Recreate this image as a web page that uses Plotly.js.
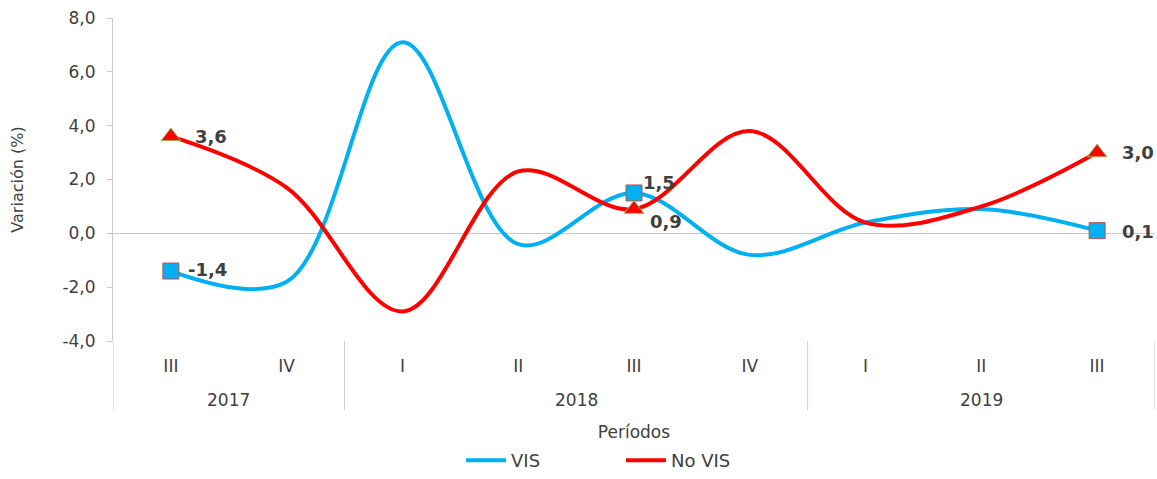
<!DOCTYPE html>
<html>
<head>
<meta charset="utf-8">
<script src="https://cdn.plot.ly/plotly-3.0.1.min.js"></script>
<style>html,body{margin:0;padding:0;background:#fff;}#chart{width:1157px;height:479px;}</style>
</head>
<body>
<div id="chart"></div>
<script>
const quarters = ['III','IV','I','II','III','IV','I','II','III'];
const years = ['2017','2018','2019'];
const yearSpans = [[0, 1], [2, 5], [6, 8]];
const vis = [-1.4, -1.8, 7.1, -0.4, 1.5, -0.8, 0.4, 0.9, 0.1];
const noVis = [3.6, 1.7, -2.9, 2.3, 0.9, 3.8, 0.4, 1.0, 3.0];
const yTicks = [-4, -2, 0, 2, 4, 6, 8];
const labelIdx = [0, 4, 8];
// label offsets (pixels) relative to the marker: [xshift, yshift]
const visLabelShift = [[15, 2], [7, 10], [23, -1]];
const noVisLabelShift = [[22, 0], [14, -12], [23, 0]];

const xIdx = quarters.map((q, i) => i);
const fmt = v => v.toFixed(1).replace('.', ',');
const pick = arr => labelIdx.map(i => arr[i]);
const FONT = 'DejaVu Sans, Verdana, sans-serif';
const lblFont = {family: FONT, size: 18, color: '#404040', weight: 'bold'};

const traces = [
  {x: xIdx, y: vis, type: 'scatter', mode: 'lines', name: 'VIS',
   line: {color: '#00B0F0', width: 4, shape: 'spline', smoothing: 1}},
  {x: xIdx, y: noVis, type: 'scatter', mode: 'lines', name: 'No VIS',
   line: {color: '#FF0000', width: 4, shape: 'spline', smoothing: 1}},
  {x: pick(xIdx), y: pick(vis), type: 'scatter', mode: 'markers', showlegend: false,
   marker: {symbol: 'square', size: 16, color: '#00B0F0', line: {color: '#C0504D', width: 1}}, cliponaxis: false},
  {x: pick(xIdx), y: pick(noVis), type: 'scatter', mode: 'markers', showlegend: false,
   marker: {symbol: 'triangle-up', size: 17, color: '#FF0000', line: {color: '#9BBB59', width: 1}}, cliponaxis: false}
];

const dividerX = [-0.5].concat(yearSpans.map(s => s[1] + 0.5));
const shapes = dividerX.map(xv => ({
  type: 'line', xref: 'x', yref: 'paper', x0: xv, x1: xv, y0: 0, y1: -0.214,
  line: {color: '#D0D0D0', width: 1}
}));
const yearAnn = years.map((yr, k) => ({
  text: yr, xref: 'x', yref: 'paper', x: (yearSpans[k][0] + yearSpans[k][1]) / 2, y: -0.183,
  xanchor: 'center', yanchor: 'middle', showarrow: false,
  font: {family: FONT, size: 17, color: '#404040'}
}));
const mkLabels = (arr, shifts) => labelIdx.map((i, k) => ({
  text: '<b>' + fmt(arr[i]) + '</b>', xref: 'x', yref: 'y', x: xIdx[i], y: arr[i],
  xanchor: 'left', yanchor: 'middle', xshift: shifts[k][0], yshift: shifts[k][1],
  showarrow: false, font: lblFont
}));

const layout = {
  width: 1157, height: 479,
  margin: {l: 113, r: 2, t: 18, b: 138},
  paper_bgcolor: '#ffffff', plot_bgcolor: '#ffffff',
  font: {family: FONT, color: '#404040', size: 17},
  showlegend: true,
  legend: {orientation: 'h', x: 0.334, xanchor: 'left', yref: 'container', y: -0.03, yanchor: 'bottom',
           font: {family: FONT, size: 18, color: '#404040'}, entrywidth: 105, entrywidthmode: 'pixels',
           itemwidth: 40, tracegroupgap: 0},
  shapes: shapes,
  annotations: yearAnn.concat(mkLabels(vis, visLabelShift), mkLabels(noVis, noVisLabelShift)),
  xaxis: {
    range: [-0.5, 8.5], tickvals: xIdx, ticktext: quarters,
    showgrid: false, zeroline: false, showline: false, ticks: '',
    ticklabelstandoff: 13,
    tickfont: {family: FONT, size: 17, color: '#404040'},
    title: {text: 'Períodos', font: {family: FONT, size: 17, color: '#404040'}, standoff: 65}
  },
  yaxis: {
    range: [-4, 8], tickvals: yTicks, ticktext: yTicks.map(fmt),
    showgrid: false, zeroline: true, zerolinecolor: '#C8C8C8', zerolinewidth: 1,
    showline: true, linecolor: '#C8C8C8', linewidth: 1,
    ticks: 'outside', ticklen: 5, tickcolor: '#C8C8C8',
    ticklabelstandoff: 8,
    tickfont: {family: FONT, size: 17, color: '#404040'},
    title: {text: 'Variación (%)', font: {family: FONT, size: 16, color: '#404040'}, standoff: 34}
  }
};

Plotly.newPlot('chart', traces, layout, {displayModeBar: false, staticPlot: true});
</script>
</body>
</html>
